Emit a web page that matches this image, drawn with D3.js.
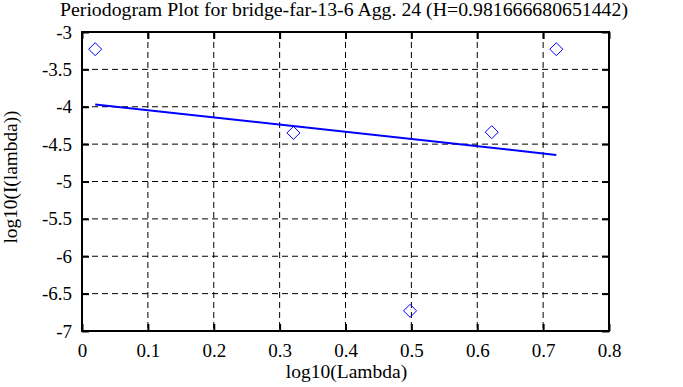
<!DOCTYPE html>
<html><head><meta charset="utf-8">
<script src="https://cdn.jsdelivr.net/npm/d3@7"></script>
<style>body{margin:0;background:#fff}svg{display:block}text{font-family:"Liberation Serif","Times New Roman",serif;fill:#000}</style>
</head><body><div id="c"></div>
<script>
const title = "Periodogram Plot for bridge-far-13-6 Agg. 24 (H=0.981666680651442)";
const xLabel = "log10(Lambda)";
const yLabel = "log10(I(lambda))";
const pointX = [0.02, 0.321, 0.498, 0.622, 0.72];
const pointY = [-3.23, -4.35, -6.73, -4.34, -3.23];
const fitX = [0.02, 0.72];
const fitY = [-3.97, -4.644];
const xTicks = [0, 0.1, 0.2, 0.3, 0.4, 0.5, 0.6, 0.7, 0.8];
const yTicks = [-3, -3.5, -4, -4.5, -5, -5.5, -6, -6.5, -7];

const W = 683, H = 387;
const m = {left: 82, right: 74, top: 32, bottom: 56};
const svg = d3.select("#c").append("svg").attr("width", W).attr("height", H);
const x = d3.scaleLinear().domain([0, 0.8]).range([m.left, W - m.right]);
const y = d3.scaleLinear().domain([-7, -3]).range([H - m.bottom, m.top]);

// grid
const g = svg.append("g");
g.selectAll(".vx").data(xTicks.slice(1, -1)).join("line")
  .attr("x1", d => x(d)).attr("x2", d => x(d)).attr("y1", y(-3)).attr("y2", y(-7))
  .attr("stroke", "#000").attr("stroke-width", 1).attr("stroke-dasharray", "6,4");
g.selectAll(".hy").data(yTicks.slice(1, -1)).join("line")
  .attr("y1", d => y(d)).attr("y2", d => y(d)).attr("x1", x(0)).attr("x2", x(0.8))
  .attr("stroke", "#000").attr("stroke-width", 1).attr("stroke-dasharray", "6,4");

// axes with inward ticks
const fmt = d => String(d);
const ax = (gen, tr) => svg.append("g").attr("transform", tr).call(gen)
  .call(s => s.select(".domain").remove())
  .call(s => s.selectAll(".tick line").attr("stroke-width", 2))
  .call(s => s.selectAll("text").style("font-family", '"Liberation Serif",serif').style("font-size", "19px"));
ax(d3.axisBottom(x).tickValues(xTicks).tickFormat(fmt).tickSize(-7).tickPadding(13), `translate(0,${y(-7)})`);
ax(d3.axisTop(x).tickValues(xTicks).tickFormat("").tickSize(-7), `translate(0,${y(-3)})`);
ax(d3.axisLeft(y).tickValues(yTicks).tickFormat(fmt).tickSize(-7).tickPadding(10), `translate(${x(0)},0)`);
ax(d3.axisRight(y).tickValues(yTicks).tickFormat("").tickSize(-7), `translate(${x(0.8)},0)`);

// border
svg.append("rect").attr("x", x(0)).attr("y", y(-3)).attr("width", x(0.8) - x(0)).attr("height", y(-7) - y(-3))
  .attr("fill", "none").attr("stroke", "#000").attr("stroke-width", 2);

// fit line
svg.append("path").datum(fitX.map((d, i) => [d, fitY[i]]))
  .attr("d", d3.line().x(d => x(d[0])).y(d => y(d[1])))
  .attr("stroke", "#0000ff").attr("stroke-width", 2).attr("fill", "none");

// points
const r = 6.5;
svg.selectAll(".pt").data(pointX.map((d, i) => [d, pointY[i]])).join("path")
  .attr("d", d => { const cx = x(d[0]), cy = y(d[1]); return `M${cx},${cy - r}L${cx + r},${cy}L${cx},${cy + r}L${cx - r},${cy}Z`; })
  .attr("fill", "none").attr("stroke", "#0000ff").attr("stroke-width", 1);

// titles
svg.append("text").attr("x", 344).attr("y", 15.5).attr("text-anchor", "middle")
  .attr("textLength", 568).attr("lengthAdjust", "spacingAndGlyphs")
  .style("font-size", "19.5px").text(title);
svg.append("text").attr("x", 346.5).attr("y", 378).attr("text-anchor", "middle")
  .style("font-size", "19.5px").text(xLabel);
svg.append("text").attr("transform", `translate(17,177) rotate(-90)`).attr("text-anchor", "middle")
  .attr("textLength", 133).attr("lengthAdjust", "spacingAndGlyphs")
  .style("font-size", "18px").text(yLabel);
</script></body></html>
